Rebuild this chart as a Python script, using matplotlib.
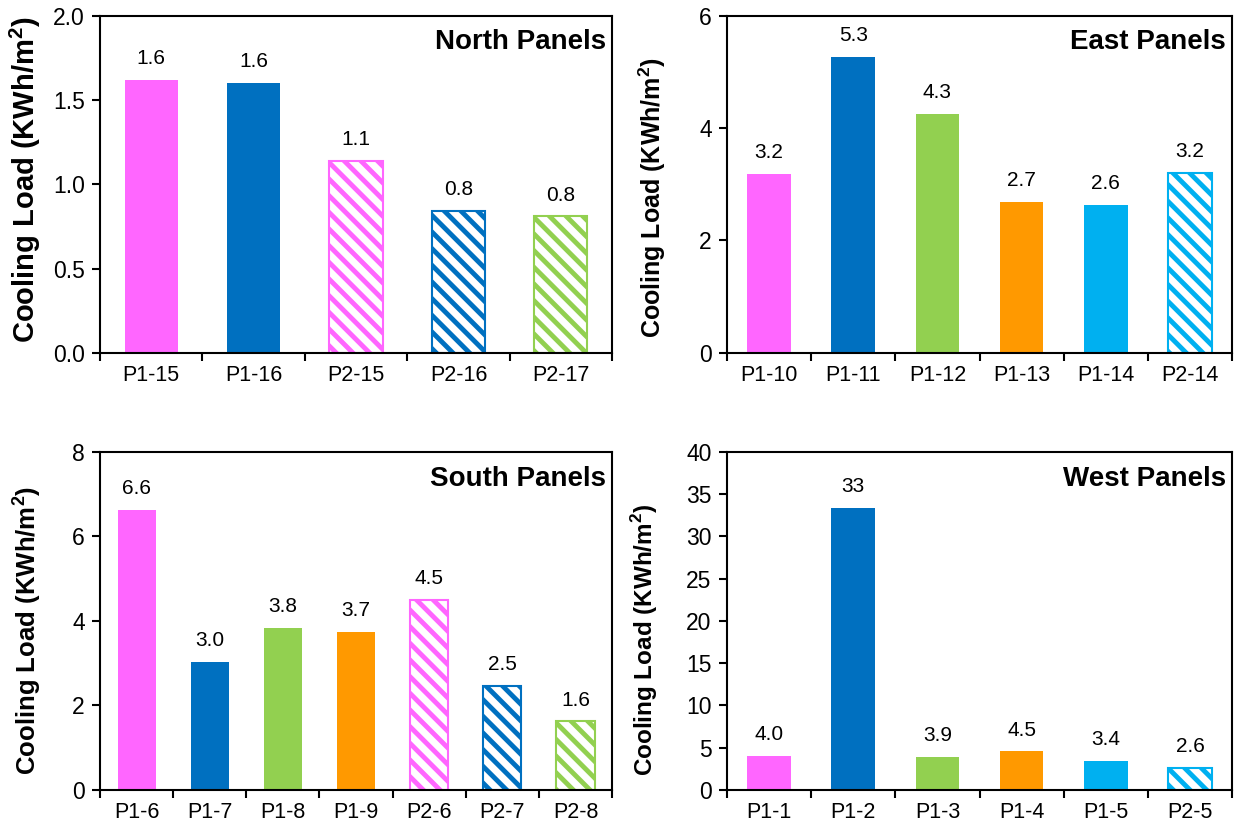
import matplotlib
matplotlib.use('Agg')
import matplotlib.pyplot as plt

plt.rcParams['font.family'] = ['Liberation Sans', 'DejaVu Sans']
plt.rcParams['hatch.linewidth'] = 3.5

MAGENTA = '#FF66FF'
BLUE = '#0070C0'
GREEN = '#92D050'
ORANGE = '#FF9900'
LIGHTBLUE = '#00B0F0'

north_labels = ['P1-15', 'P1-16', 'P2-15', 'P2-16', 'P2-17']
north_values = [1.62, 1.60, 1.14, 0.84, 0.81]
north_colors = [MAGENTA, BLUE, MAGENTA, BLUE, GREEN]
north_hatched = [False, False, True, True, True]

east_labels = ['P1-10', 'P1-11', 'P1-12', 'P1-13', 'P1-14', 'P2-14']
east_values = [3.19, 5.27, 4.26, 2.68, 2.63, 3.21]
east_colors = [MAGENTA, BLUE, GREEN, ORANGE, LIGHTBLUE, LIGHTBLUE]
east_hatched = [False, False, False, False, False, True]

south_labels = ['P1-6', 'P1-7', 'P1-8', 'P1-9', 'P2-6', 'P2-7', 'P2-8']
south_values = [6.63, 3.02, 3.84, 3.74, 4.50, 2.46, 1.62]
south_colors = [MAGENTA, BLUE, GREEN, ORANGE, MAGENTA, BLUE, GREEN]
south_hatched = [False, False, False, False, True, True, True]

west_labels = ['P1-1', 'P1-2', 'P1-3', 'P1-4', 'P1-5', 'P2-5']
west_values = [4.03, 33.4, 3.94, 4.54, 3.42, 2.62]
west_colors = [MAGENTA, BLUE, GREEN, ORANGE, LIGHTBLUE, LIGHTBLUE]
west_hatched = [False, False, False, False, False, True]


def fmt(v):
    return f'{v:.0f}' if v >= 10 else f'{v:.1f}'


def panel(rect, title, labels, values, colors, hatched, ymax, ystep, yfmt,
          label_size, label_xy):
    ax = fig.add_axes(rect)
    x = range(len(labels))
    for i, (v, c, h) in enumerate(zip(values, colors, hatched)):
        if h:
            ax.bar(i, v, width=0.52, facecolor='white', edgecolor=c,
                   hatch='\\\\', linewidth=1.5, zorder=2)
        else:
            ax.bar(i, v, width=0.52, color=c, zorder=2)
        ax.text(i, v + ymax * 0.035, fmt(v), ha='center', va='bottom', fontsize=15)
    ax.set_xlim(-0.5, len(labels) - 0.5)
    ax.set_ylim(0, ymax)
    ax.set_xticks(list(x))
    ax.set_xticklabels(labels, fontsize=15.5)
    ax.set_xticks([i - 0.5 for i in range(len(labels) + 1)], minor=True)
    ax.tick_params(axis='x', which='major', length=0, pad=9)
    ax.tick_params(axis='x', which='minor', length=6, width=1.5, direction='out')
    yt = [i * ystep for i in range(int(round(ymax / ystep)) + 1)]
    ax.set_yticks(yt)
    ax.set_yticklabels([yfmt.format(t) for t in yt], fontsize=16.5)
    ax.tick_params(axis='y', length=6, width=1.5, direction='out', pad=5)
    for s in ax.spines.values():
        s.set_linewidth(1.5)
    ax.set_ylabel('Cooling Load (KWh/m$^\\mathregular{2}$)', fontsize=label_size,
                  fontweight='bold')
    ax.yaxis.set_label_coords(*label_xy)
    ax.text(0.988, 0.96, title, transform=ax.transAxes, ha='right', va='top',
            fontsize=20, fontweight='bold')
    return ax


fig = plt.figure(figsize=(12.38, 8.34), dpi=100)

panel([0.0808, 0.577, 0.4136, 0.404], 'North Panels', north_labels, north_values,
      north_colors, north_hatched, 2.0, 0.5, '{:.1f}', 21, (-0.111, 0.513))
panel([0.5872, 0.577, 0.408, 0.404], 'East Panels', east_labels, east_values,
      east_colors, east_hatched, 6, 2, '{:.0f}', 18, (-0.117, 0.46))
panel([0.0808, 0.053, 0.4136, 0.405], 'South Panels', south_labels, south_values,
      south_colors, south_hatched, 8, 2, '{:.0f}', 18.5, (-0.111, 0.473))
panel([0.5872, 0.053, 0.408, 0.405], 'West Panels', west_labels, west_values,
      west_colors, west_hatched, 40, 5, '{:.0f}', 17.5, (-0.133, 0.444))

fig.savefig('out.png', dpi=100)
